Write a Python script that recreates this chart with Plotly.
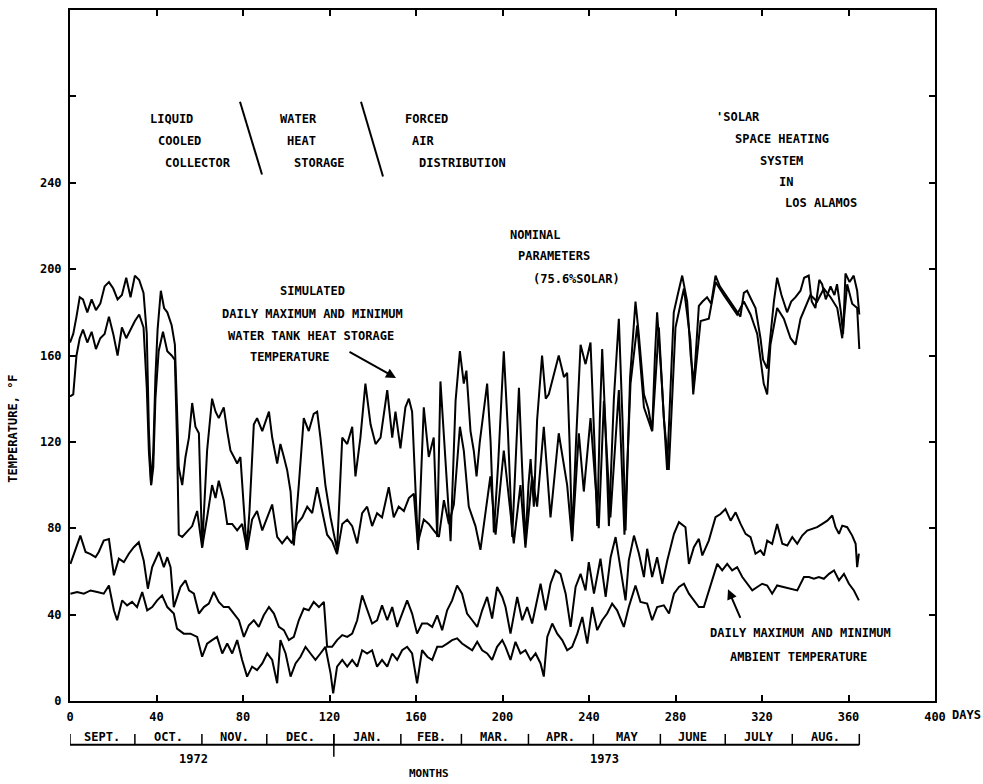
import plotly.graph_objects as go

# ---------------- data (day of year from Sept 1, 1972 ; temperature degF) ----------------
tank_max = [
    (0, 166), (1.5, 170), (3, 178), (4.5, 187), (6, 186), (8, 180), (10, 186), (12, 181), (14, 184),
    (16, 192), (18, 194), (20, 191), (22, 186), (24, 188), (26, 196), (28, 187), (30, 197), (32, 195),
    (34, 189), (35.5, 170), (36.5, 125), (37.5, 100), (38.5, 115), (39.5, 150), (40.5, 172), (42, 190),
    (43.5, 182), (45, 180), (47, 174), (48.5, 165), (49.5, 135), (50.3, 108), (51.9, 100), (53.4, 113),
    (55, 122), (56.5, 138), (58, 127), (59.6, 124), (61.1, 71), (63.4, 116), (65.7, 140), (67.3, 134),
    (68.8, 131), (71.1, 136), (72.7, 125), (74.2, 116), (75.8, 113), (77.3, 110), (78.8, 113), (80.4, 88),
    (81.7, 70), (83, 88), (85, 128), (86.5, 131), (88.9, 125), (92, 134), (93.5, 122), (95.8, 110),
    (97.3, 119), (98.9, 113), (100.4, 107), (102, 97), (103.5, 72), (105.8, 100), (108.1, 131),
    (110.4, 125), (112.7, 133), (114.3, 134), (115.8, 122), (118.1, 100), (120.5, 85), (123.5, 70),
    (125.9, 122), (128.2, 119), (130.5, 127), (132, 104), (134.3, 122), (136.6, 147), (139, 128),
    (141.3, 119), (143.6, 122), (146.7, 144), (149, 122), (150.5, 134), (152.8, 117), (155.1, 136),
    (156.7, 140), (158.2, 134), (159.5, 105), (161, 70), (163.6, 136), (165.9, 113), (168.2, 122),
    (169.8, 76), (171.3, 148), (172.9, 122), (174.4, 100), (176, 74), (178.3, 139), (180.3, 162),
    (182.1, 147), (183.3, 153), (185.2, 125), (186.7, 116), (188, 104), (189.5, 120), (192.9, 147),
    (194.5, 120), (196, 78), (198, 110), (200.6, 162), (202.5, 125), (204.5, 76), (206, 110),
    (207.6, 145), (209, 110), (210.6, 73), (212, 100), (213, 112), (214.5, 90), (216, 130), (218.3, 160),
    (220, 140), (221.4, 142), (223.5, 150), (226, 160), (228.4, 150), (229.9, 152), (231, 120),
    (232.2, 76), (234, 120), (236.1, 165), (238.4, 156), (240.7, 166), (242.5, 120), (243.8, 81),
    (245, 130), (246.1, 163), (247.5, 130), (249.2, 81), (251.5, 140), (253.8, 177), (255.5, 130),
    (256.9, 79), (259, 150), (261.5, 185), (263, 170), (265.4, 142), (267.5, 135), (269.2, 125),
    (270.5, 160), (271.5, 180), (273.5, 150), (276.1, 107), (277.5, 140), (279.2, 180), (281, 188),
    (283.1, 197), (285.4, 185), (287, 160), (288.5, 147), (290.8, 183), (292.5, 185), (294.6, 187),
    (296.5, 184), (298.5, 197), (300.5, 192), (303.1, 188), (306, 184), (308.5, 180), (310, 178),
    (311.6, 189), (313.1, 190), (315.5, 185), (317, 182), (319.3, 168), (320.5, 158), (322.4, 154),
    (324, 170), (325.5, 185), (327, 196), (329, 188), (331.6, 180), (333.5, 185), (335.5, 187),
    (337.8, 190), (339.5, 196), (341.6, 197), (343, 185), (344.7, 182), (346.5, 195), (347.8, 193),
    (349.5, 186), (351.7, 192), (353.5, 188), (354.7, 193), (356.5, 180), (357.5, 170), (358.6, 198),
    (360.5, 194), (362.4, 197), (364, 190), (365, 179),
]

tank_min = [
    (0, 141), (1.5, 142), (3, 160), (4.5, 168), (6, 172), (8, 166), (10, 171), (12, 163), (14, 168),
    (16, 170), (18, 178), (20, 170), (22, 160), (24, 173), (26, 168), (28, 172), (30, 176), (32, 179),
    (34, 173), (35.5, 145), (36.5, 115), (37.5, 100), (38.5, 108), (39.5, 140), (41, 162), (43, 171),
    (45, 162), (47, 160), (48.5, 158), (49.5, 120), (50.3, 77), (51.9, 76), (54.4, 79), (56.5, 81),
    (58.8, 88), (61.1, 71), (63.4, 85), (65.7, 100), (67.3, 94), (68.8, 102), (71.1, 93), (72.7, 82),
    (75, 82), (77.3, 79), (79.6, 82), (81.9, 70), (84.2, 84), (86.5, 88), (88.9, 79), (91.2, 85),
    (93.5, 91), (95.8, 76), (98.1, 73), (100.4, 76), (102.7, 73), (105, 82), (107.4, 85), (109.7, 90),
    (112, 87), (114.3, 99), (116.6, 88), (118.9, 77), (121.2, 74), (123.5, 68), (125.9, 82), (128.2, 84),
    (130.5, 81), (132.8, 73), (135.1, 87), (137.4, 90), (139.7, 81), (142, 87), (144.3, 85), (147.4, 99),
    (149.7, 85), (152, 90), (154.4, 88), (156.7, 94), (159, 96), (160.8, 73), (163.6, 84), (165.9, 82),
    (168.2, 79), (170.6, 76), (172.9, 93), (175.2, 82), (177.5, 91), (180.3, 127), (182.1, 116),
    (184.4, 90), (187.5, 81), (189.8, 70), (194.4, 104), (196.8, 77), (200.6, 116), (205.2, 73),
    (208.3, 100), (210.6, 71), (213.7, 104), (216, 90), (219.1, 127), (222.2, 85), (226, 124),
    (229.9, 100), (232.2, 74), (235.3, 124), (237.6, 97), (240.7, 131), (244.5, 80), (246.9, 139),
    (249.9, 85), (253.8, 144), (256.4, 77), (259.2, 147), (262.3, 174), (265.4, 136), (269.2, 125),
    (272.3, 173), (274.6, 131), (276.9, 107), (280, 173), (283.9, 191), (286.9, 167), (288.2, 142),
    (291.6, 176), (295.4, 177), (298.5, 194), (302.3, 188), (308.5, 179), (311.6, 185), (314.7, 179),
    (317.8, 170), (320.8, 147), (322.4, 142), (323.9, 165), (327, 182), (330.1, 177), (333.2, 168),
    (335.5, 165), (337.8, 177), (342.4, 188), (345.5, 185), (348.6, 191), (351.7, 187), (354.8, 182),
    (357.1, 168), (359.4, 193), (361.7, 184), (364, 182), (365, 163),
]

ambient_max = [
    (0.2, 63.5), (2.5, 69.7), (4.8, 76.6), (7.2, 69), (9.5, 68), (11.8, 66.6), (13.3, 69), (15.6, 74.3),
    (18, 75), (20.3, 58.2), (22.6, 65.9), (24.9, 64.3), (27.2, 68.2), (29.5, 71.2), (31.8, 73.5),
    (34.1, 65), (36, 52), (38, 62), (41.1, 69), (43.4, 62), (45, 66.6), (46.5, 62), (48, 43.5),
    (51.1, 52.8), (53.4, 55.9), (55, 51.2), (57.3, 49.7), (59.6, 40.5), (61.9, 43.5), (64.2, 45.1),
    (66.5, 50.5), (68.8, 45.9), (71.1, 43.5), (73.4, 43.5), (75.8, 40.5), (78.1, 37.4), (80.4, 29.7),
    (82.7, 35.1), (85, 37.4), (87.3, 34.3), (89.6, 39.7), (92, 43.5), (94.3, 40.5), (96.6, 34.3),
    (98.9, 32.8), (101.2, 28.2), (103.5, 29.7), (105.8, 37.4), (108.1, 42.8), (110.4, 42),
    (112.7, 45.9), (115.1, 43.5), (117.4, 45.9), (118.9, 25.1), (121.2, 25.1), (123.5, 28.2),
    (125.9, 30.5), (128.2, 29.7), (130.5, 31.2), (132.8, 37.4), (135.1, 48.9), (137.4, 42),
    (139.7, 35.9), (142, 37.4), (144.3, 44.3), (146.7, 37.4), (149, 43.5), (151.3, 34.3), (153.6, 40.5),
    (155.9, 46.6), (158.2, 40.5), (160.5, 31.2), (162.8, 35.9), (165.2, 35.9), (167.5, 34.3),
    (169.8, 39.7), (172.1, 32.8), (174.4, 42), (176.7, 46.6), (179, 53.5), (181.3, 49.7), (183.6, 40.5),
    (186, 37.4), (188.3, 34.3), (190.6, 42), (192.9, 48.2), (195.2, 38.2), (197.5, 52.8), (199.9, 48.2),
    (201.4, 43.5), (203.7, 31.2), (206.8, 48.2), (209.1, 37.4), (211.4, 43.5), (213.7, 35.9),
    (217.6, 54.3), (219.9, 42), (222.2, 54.3), (224.5, 60.5), (226.8, 58.9), (229.2, 49.7), (231.5, 34.3),
    (233.8, 52.8), (236.1, 58.9), (238.4, 51.2), (239.9, 64.3), (242.3, 49.7), (245.3, 65.9),
    (247.7, 48.2), (250, 66.6), (252.3, 75.9), (254.6, 60.5), (256.9, 46.6), (258.4, 65.1), (260.8, 76.6),
    (263.1, 68.2), (265.4, 57.4), (266.9, 70.5), (269.2, 57.4), (271.5, 66.6), (273.9, 54.3),
    (276.2, 65.1), (279.3, 77.4), (281.6, 82.8), (284.6, 80.5), (286.2, 63.5), (288.5, 71.2),
    (290.8, 75.1), (292.4, 67.4), (295.4, 74.3), (298.5, 85.1), (300.8, 86.6), (303.1, 88.9),
    (305.5, 83.5), (307.8, 87.4), (310.1, 82), (312.4, 77.4), (314.7, 75.9), (317, 68.2), (319.3, 69.7),
    (320.9, 67.4), (322.4, 74.3), (324.7, 72.8), (327, 82), (329.4, 72.8), (331.7, 72), (334, 75.9),
    (336.3, 72.8), (338.6, 76.6), (340.9, 78.9), (343.2, 79.7), (345.5, 80.5), (347.9, 82), (350.2, 83.5),
    (352.5, 85.9), (354, 80.5), (355.6, 77.4), (357.1, 81.2), (359.4, 80.5), (361.7, 76.6), (363.3, 72.8),
    (364, 62), (364.8, 68.2),
]

ambient_min = [
    (0.2, 49.7), (3.3, 50.5), (6.4, 49.7), (9.5, 51.2), (12.6, 50.5), (15.6, 49.7), (18, 53.5),
    (20.3, 42), (21.8, 37.4), (24.1, 46.6), (26.4, 44.3), (28.7, 45.9), (31, 43.5), (33.4, 50.5),
    (35.7, 42), (38, 43.5), (40.3, 46.6), (42.6, 48.9), (45, 43.5), (48, 40.5), (49.5, 33.5),
    (52.6, 31.2), (55.7, 31.2), (58.8, 29.7), (61.1, 20.5), (63.4, 26.6), (65.7, 28.2), (68, 29.7),
    (70.4, 22), (72.7, 26.6), (75, 22), (77.3, 28.2), (79.6, 19), (81.9, 11.3), (84.2, 15.9),
    (86.5, 14.3), (88.9, 17.4), (91.2, 22), (93.5, 19), (95.8, 8.2), (97.3, 28.2), (99.7, 22),
    (102, 11.3), (104.3, 17.4), (106.6, 20.5), (108.9, 25.1), (111.2, 22), (113.5, 19), (115.8, 22),
    (118.1, 25.1), (120.5, 12.8), (121.7, 3.5), (123.5, 15.9), (125.9, 19), (128.2, 15.9), (130.5, 19),
    (132.8, 15.9), (135.1, 23.5), (137.4, 22), (139.7, 23.5), (142, 15.9), (144.3, 19), (146.7, 15.9),
    (149, 22), (151.3, 19), (153.6, 23.5), (155.9, 25.1), (158.2, 22), (160.5, 8.2), (162.8, 23.5),
    (165.2, 20.5), (167.5, 19), (169.8, 25.1), (172.1, 25.1), (174.4, 26.6), (176.7, 28.2), (179, 29),
    (181.3, 26.6), (183.6, 25.1), (186, 23.5), (188.3, 27.4), (190.6, 23.5), (192.9, 22), (195.2, 19),
    (197.5, 25.1), (199.9, 28.2), (201.4, 25.1), (203.7, 19), (206, 27.4), (208.3, 22), (210.6, 23.5),
    (213, 19), (215.3, 22), (217.6, 17.4), (219.1, 11.3), (220.7, 29.7), (223, 35.9), (225.3, 31.2),
    (227.6, 28.2), (229.9, 23.5), (232.2, 25.1), (234.6, 31.2), (236.9, 38.9), (239.2, 26.6),
    (241.5, 43.5), (243.8, 32.8), (246.1, 37.4), (248.4, 40.5), (250.7, 45.1), (253, 42), (256.1, 34.3),
    (258.4, 43.5), (261.5, 53.5), (263.8, 45.9), (266.9, 45.1), (269.2, 37.4), (271.5, 43.5),
    (274.6, 44.3), (277, 40.5), (279.3, 49.7), (281.6, 52.8), (283.9, 54.3), (286.2, 49.7), (288.5, 46.6),
    (290.8, 43.5), (293.1, 43.5), (295.4, 51.2), (297.8, 58.9), (299.3, 63.5), (301.6, 60.5),
    (303.9, 63.5), (306.2, 60.5), (308.5, 62), (310.9, 57.4), (313.2, 54.3), (315.5, 51.2), (317.8, 52.8),
    (320.1, 54.3), (322.4, 53.5), (324.7, 49.7), (327, 53.5), (330.1, 52.8), (333.2, 52), (336.3, 51.2),
    (339.4, 57.4), (341.7, 57.4), (344, 56.6), (346.3, 57.4), (348.6, 56.6), (351, 58.9), (353.3, 60.5),
    (355.6, 55.9), (357.9, 58.9), (360.2, 54.3), (362.5, 51.2), (364.8, 46.6),
]

x_tick_vals = [0, 40, 80, 120, 160, 200, 240, 280, 320, 360, 400]
x_tick_text = ["0", "40", "80", "120", "160", "200", "240", "280", "320", "360", "400"]
y_tick_vals = [0, 40, 80, 120, 160, 200, 240, 280, 320]
y_tick_text = ["0", "40", "80", "120", "160", "200", "240", "", ""]

month_bounds = [0, 30, 61, 91, 122, 153, 181, 212, 242, 273, 303, 334, 365]
month_names = ["SEPT.", "OCT.", "NOV.", "DEC.", "JAN.", "FEB.", "MAR.", "APR.", "MAY", "JUNE", "JULY", "AUG."]
year_labels = ["1972", "1973"]
year_label_days = [57, 247]
year_boundary_day = 122

# ---------------- figure ----------------
FONT = dict(family="DejaVu Sans Mono", size=12, color="black", weight="bold")
W, H = 983, 784
L, R, T, B = 70, 48, 8, 83
PW, PH = W - L - R, H - T - B


def px(xp):
    return (xp - L) / PW


def py(yp):
    return (H - B - yp) / PH


fig = go.Figure()
for series in (tank_max, tank_min, ambient_max, ambient_min):
    fig.add_trace(go.Scatter(
        x=[d for d, _ in series], y=[v for _, v in series],
        mode="lines", line=dict(color="black", width=2), hoverinfo="skip", showlegend=False))

annotations = []


def text(t, xp, yp, **kw):
    d = dict(text=t, xref="paper", yref="paper", x=px(xp), y=py(yp), xanchor="left",
             yanchor="middle", showarrow=False, font=FONT)
    d.update(kw)
    annotations.append(d)


for t, xp, yp in [
    ("LIQUID", 148, 117), ("COOLED", 156, 139), ("COLLECTOR", 163, 161),
    ("WATER", 278, 117), ("HEAT", 285, 139), ("STORAGE", 292, 161),
    ("FORCED", 403, 117), ("AIR", 410, 139), ("DISTRIBUTION", 417, 161),
    ("'SOLAR", 714, 115), ("SPACE HEATING", 733, 137), ("SYSTEM", 758, 159),
    ("IN", 777, 180), ("LOS ALAMOS", 783, 202),
    ("NOMINAL", 508, 234), ("PARAMETERS", 516, 255), ("(75.6%SOLAR)", 531, 278),
    ("SIMULATED", 278, 290), ("DAILY MAXIMUM AND MINIMUM", 220, 313),
    ("WATER TANK HEAT STORAGE", 226, 335), ("TEMPERATURE", 248, 356),
    ("DAILY MAXIMUM AND MINIMUM", 708, 633), ("AMBIENT TEMPERATURE", 728, 657),
]:
    text(t, xp, yp)

# axis extras
text("DAYS", 950, 715)
text("TEMPERATURE, °F", 13, 428, textangle=-90, xanchor="center")

# arrows
for head, tail in [((396, 377), (348, 350)), ((728, 589), (741, 619))]:
    annotations.append(dict(text="", xref="paper", yref="paper", x=px(head[0]), y=py(head[1]),
                            ax=tail[0] - head[0], ay=tail[1] - head[1], showarrow=True,
                            arrowhead=2, arrowsize=1, arrowwidth=2, arrowcolor="black"))

# months row
row_y = py(745)
for i, name in enumerate(month_names):
    annotations.append(dict(text=name, xref="x", yref="paper",
                            x=(month_bounds[i] + month_bounds[i + 1]) / 2, y=py(737),
                            xanchor="center", yanchor="middle", showarrow=False, font=FONT))
for lab, d in zip(year_labels, year_label_days):
    annotations.append(dict(text=lab, xref="x", yref="paper", x=d, y=py(759),
                            xanchor="center", yanchor="middle", showarrow=False, font=FONT))
annotations.append(dict(text="MONTHS", xref="x", yref="paper", x=166, y=py(774),
                        xanchor="center", yanchor="middle", showarrow=False,
                        font=dict(FONT, size=11)))

shapes = [dict(type="line", xref="x", yref="paper", x0=month_bounds[0], x1=month_bounds[-1],
               y0=row_y, y1=row_y, line=dict(color="black", width=2))]
for d in month_bounds:
    shapes.append(dict(type="line", xref="x", yref="paper", x0=d, x1=d, y0=row_y, y1=py(734),
                       line=dict(color="black", width=1.5)))
shapes.append(dict(type="line", xref="x", yref="paper", x0=year_boundary_day, x1=year_boundary_day,
                   y0=py(757), y1=py(734), line=dict(color="black", width=1.5)))

# diagonal separators in the title block
for (x0, y0), (x1, y1) in [((240, 100), (262, 173)), ((361, 100), (383, 175))]:
    shapes.append(dict(type="line", xref="paper", yref="paper", x0=px(x0), y0=py(y0),
                       x1=px(x1), y1=py(y1), line=dict(color="black", width=2)))

axis_common = dict(showline=True, linecolor="black", linewidth=2, mirror="ticks", ticks="inside",
                   ticklen=6, tickwidth=1.5, tickcolor="black", showgrid=False, zeroline=False,
                   tickfont=FONT)

fig.update_layout(
    width=W, height=H, margin=dict(l=L, r=R, t=T, b=B),
    paper_bgcolor="white", plot_bgcolor="white",
    xaxis=dict(range=[0, 400], tickvals=x_tick_vals, ticktext=x_tick_text, ticklabelstandoff=4,
               **axis_common),
    yaxis=dict(range=[0, 320], tickvals=y_tick_vals, ticktext=y_tick_text, ticklabelstandoff=4,
               **axis_common),
    annotations=annotations, shapes=shapes,
)

fig.write_html("out.html")
